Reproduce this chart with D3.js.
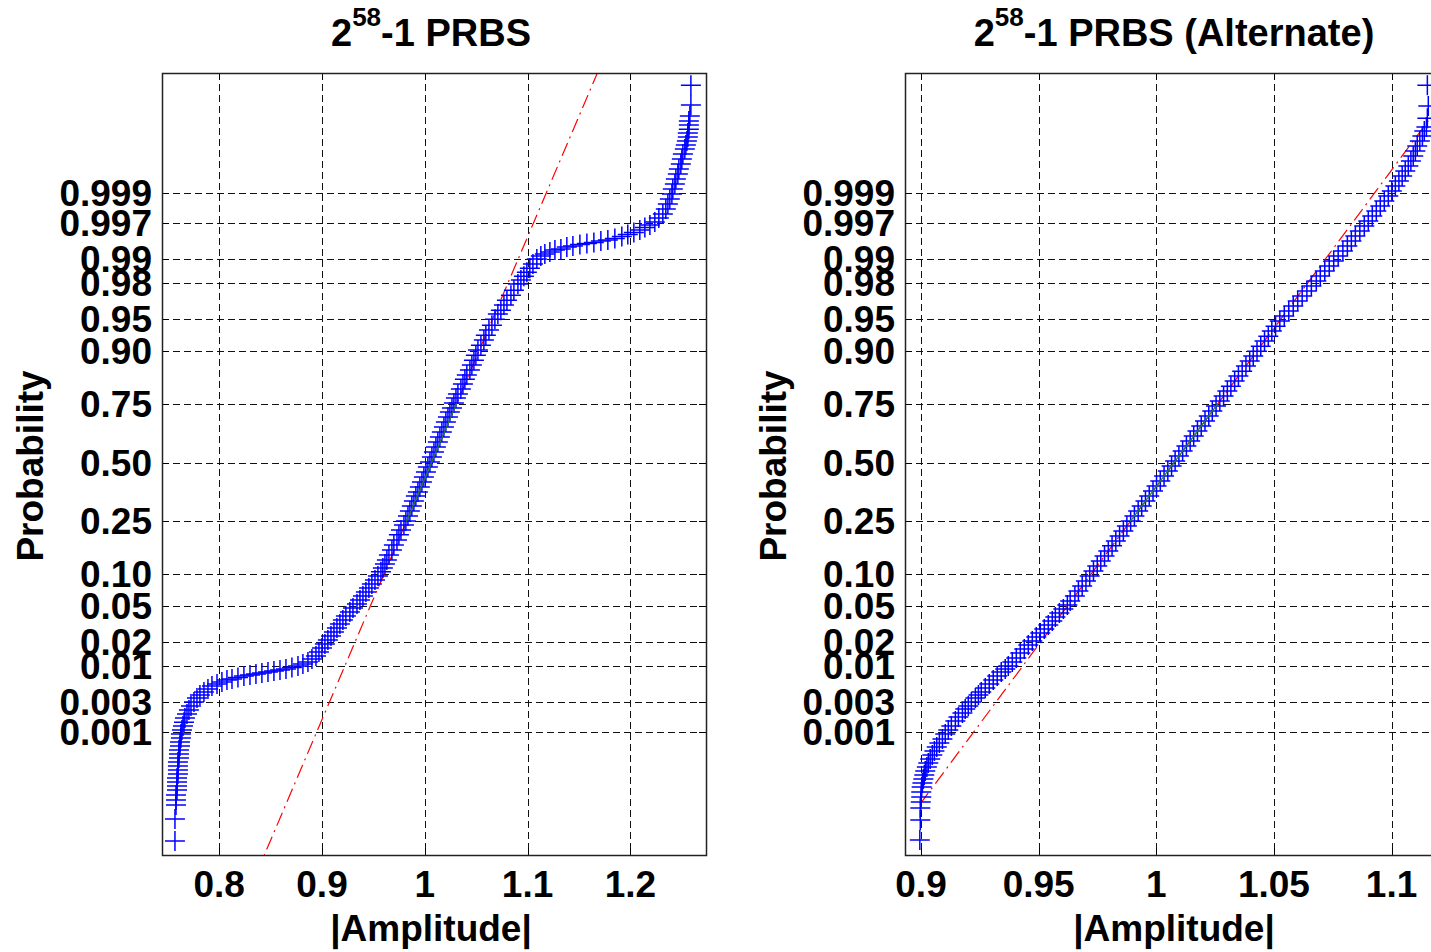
<!DOCTYPE html>
<html>
<head>
<meta charset="utf-8">
<script src="https://cdn.jsdelivr.net/npm/d3@7"></script>
<style>
body { margin: 0; background: #fff; }
text { font-family: "Liberation Sans", Arial, sans-serif; font-weight: bold; fill: #000; }
</style>
</head>
<body>
<div id="chart"></div>
<script>
// probability axis ticks (normal probability paper)
const probTicks  = [0.001, 0.003, 0.01, 0.02, 0.05, 0.10, 0.25, 0.50, 0.75, 0.90, 0.95, 0.98, 0.99, 0.997, 0.999];
const probLabels = ["0.001", "0.003", "0.01", "0.02", "0.05", "0.10", "0.25", "0.50", "0.75", "0.90", "0.95", "0.98", "0.99", "0.997", "0.999"];

// left panel: 2^58-1 PRBS
const leftTicks = [0.8, 0.9, 1, 1.1, 1.2];
const leftAmp = [
  0.7569, 0.7569, 0.7579, 0.7579, 0.7579, 0.7589, 0.7589, 0.7589, 0.7589, 0.7598,
  0.7598, 0.7598, 0.7598, 0.7608, 0.7608, 0.7608, 0.7618, 0.7618, 0.7627, 0.7627,
  0.7637, 0.7647, 0.7657, 0.7666, 0.7686, 0.7705, 0.7725, 0.7754, 0.7783, 0.7812,
  0.7851, 0.7890, 0.7929, 0.7978, 0.8026, 0.8075, 0.8124, 0.8182, 0.8240, 0.8299,
  0.8357, 0.8415, 0.8474, 0.8532, 0.8591, 0.8649, 0.8707, 0.8766, 0.8814, 0.8863,
  0.8902, 0.8941, 0.8970, 0.8999, 0.9028, 0.9057, 0.9087, 0.9116, 0.9145, 0.9174,
  0.9203, 0.9232, 0.9271, 0.9301, 0.9340, 0.9369, 0.9398, 0.9427, 0.9456, 0.9485,
  0.9515, 0.9544, 0.9573, 0.9592, 0.9612, 0.9631,
  0.9651, 0.9680, 0.9699, 0.9729, 0.9748, 0.9768, 0.9797, 0.9816,
  0.9836, 0.9855, 0.9874, 0.9894, 0.9913, 0.9933, 0.9952, 0.9972, 0.9991, 1.0011, 1.0030, 1.0050,
  1.0069, 1.0089, 1.0108, 1.0127, 1.0147, 1.0166, 1.0186, 1.0205, 1.0225, 1.0244, 1.0264, 1.0283,
  1.0303, 1.0322, 1.0351, 1.0371, 1.0390, 1.0409, 1.0439, 1.0458, 1.0478, 1.0497, 1.0517,
  1.0546, 1.0575, 1.0594, 1.0624, 1.0653, 1.0682,
  1.0711, 1.0740, 1.0770, 1.0799, 1.0838, 1.0867, 1.0906,
  1.0935, 1.0964, 1.0993, 1.1022, 1.1052, 1.1090,
  1.1129, 1.1168, 1.1217, 1.1266, 1.1324, 1.1382, 1.1441, 1.1509, 1.1577, 1.1645,
  1.1713, 1.1781, 1.1849, 1.1917, 1.1975, 1.2034, 1.2092, 1.2141, 1.2190, 1.2238,
  1.2277, 1.2316, 1.2345, 1.2365, 1.2384, 1.2404, 1.2413, 1.2433, 1.2443, 1.2462,
  1.2472, 1.2491, 1.2501, 1.2511, 1.2530, 1.2540, 1.2550, 1.2559, 1.2559, 1.2569,
  1.2569, 1.2569, 1.2579, 1.2589, 1.2589
];
const leftProb = [
  7.3e-6, 2.22e-5, 4.37e-5, 5.52e-5, 6.97e-5, 8.79e-5, 1.05e-4, 1.26e-4, 1.51e-4, 1.80e-4,
  2.14e-4, 2.53e-4, 3.00e-4, 3.56e-4, 4.20e-4, 4.96e-4, 5.83e-4, 6.83e-4, 7.99e-4, 9.35e-4,
  1.09e-3, 1.27e-3, 1.47e-3, 1.71e-3, 1.98e-3, 2.29e-3, 2.64e-3, 3.03e-3, 3.49e-3, 3.87e-3,
  4.28e-3, 4.73e-3, 5.23e-3, 5.58e-3, 5.96e-3, 6.36e-3, 6.57e-3, 6.88e-3, 7.22e-3, 7.45e-3,
  7.69e-3, 7.94e-3, 8.20e-3, 8.47e-3, 8.72e-3, 9.00e-3, 9.42e-3, 9.86e-3, 0.01049, 0.01115,
  0.01217, 0.01333, 0.01498, 0.01677, 0.01880, 0.02101, 0.02345, 0.02609, 0.02904, 0.03213,
  0.03561, 0.03932, 0.04344, 0.04771, 0.05250, 0.05756, 0.06311, 0.06899, 0.07517, 0.08193,
  0.08910, 0.0968, 0.1052, 0.1136, 0.1227, 0.1322,
  0.1449, 0.1582, 0.1727, 0.1874, 0.2036, 0.2200, 0.2372, 0.2517,
  0.2701, 0.2894, 0.3092, 0.3298, 0.3506, 0.3679, 0.3894, 0.4118, 0.4341, 0.4566, 0.4793, 0.5023,
  0.5251, 0.5478, 0.5705, 0.5929, 0.6148, 0.6363, 0.6579, 0.6785, 0.6987, 0.7182, 0.7335, 0.7522,
  0.7697, 0.7836, 0.7998, 0.8156, 0.8301, 0.8418, 0.8551, 0.8678, 0.8795, 0.8906, 0.9012,
  0.9106, 0.9197, 0.9276, 0.9354, 0.9422, 0.9497,
  0.9555, 0.9595, 0.9644, 0.9685, 0.9724, 0.9758, 0.9795,
  0.9817, 0.9836, 0.9854, 0.9870, 0.9885, 0.9901,
  0.9910, 0.99153, 0.99206, 0.99255, 0.99277, 0.99321, 0.99343, 0.99374, 0.99395, 0.99413,
  0.99442, 0.99460, 0.99486, 0.99519, 0.99550, 0.99580, 0.99613, 0.99645, 0.99675, 0.99707,
  0.99745, 0.99780, 0.99815, 0.99847, 0.99873, 0.99895, 0.999136, 0.999289, 0.999417, 0.999525,
  0.999613, 0.999686, 0.999747, 0.999795, 0.999836, 0.999862, 0.999885, 0.999904, 0.999920, 0.999933,
  0.999945, 0.999954, 0.999964, 0.999979, 0.9999923
];
const leftQuartiles = [0.9821, 1.0309];

// right panel: 2^58-1 PRBS (Alternate)
const rightTicks = [0.9, 0.95, 1, 1.05, 1.1];
const rightAmp = [
  0.8995, 0.8997, 0.8997, 0.8999, 0.9001, 0.9001, 0.9003, 0.9006, 0.9010, 0.9014,
  0.9018, 0.9025, 0.9031, 0.9039, 0.9048, 0.9057, 0.9067, 0.9078, 0.9091, 0.9103,
  0.9116, 0.9129, 0.9146, 0.9159, 0.9176, 0.9188, 0.9201, 0.9214, 0.9231, 0.9244,
  0.9256, 0.9273, 0.9290, 0.9307, 0.9324, 0.9341, 0.9358, 0.9371, 0.9388, 0.9405,
  0.9422, 0.9439, 0.9456, 0.9473, 0.9490, 0.9507, 0.9524, 0.9541, 0.9558, 0.9571,
  0.9588, 0.9605, 0.9622, 0.9634,
  0.9654, 0.9669, 0.9685, 0.9701, 0.9717, 0.9733, 0.9749, 0.9764, 0.9780, 0.9796,
  0.9812, 0.9828, 0.9844, 0.9860, 0.9875, 0.9891, 0.9907, 0.9923, 0.9938, 0.9954,
  0.9970, 0.9986, 1.0001, 1.0017, 1.0033, 1.0049, 1.0065, 1.0080, 1.0096, 1.0112,
  1.0128, 1.0144, 1.0159, 1.0175, 1.0191, 1.0207, 1.0223, 1.0238, 1.0254, 1.0270,
  1.0286, 1.0302, 1.0317, 1.0333, 1.0349, 1.0365, 1.0381, 1.0397, 1.0412, 1.0428,
  1.0444, 1.0460, 1.0476, 1.0491, 1.0507,
  1.0525, 1.0544, 1.0563, 1.0582, 1.0601, 1.0620, 1.0640, 1.0659, 1.0680, 1.0697,
  1.0716, 1.0735, 1.0754, 1.0773, 1.0793, 1.0812, 1.0829, 1.0846, 1.0865, 1.0884,
  1.0901, 1.0918, 1.0935, 1.0952, 1.0969, 1.0986, 1.1001, 1.1016, 1.1031, 1.1045,
  1.1058, 1.1071, 1.1082, 1.1092, 1.1101, 1.1109, 1.1120, 1.1131, 1.1139, 1.1148,
  1.1152, 1.1156, 1.1152
];
const rightProb = [
  7.66e-6, 2.12e-5, 3.78e-5, 5.03e-5, 6.35e-5, 8.0e-5, 1.008e-4, 1.21e-4, 1.44e-4, 1.72e-4,
  2.05e-4, 2.43e-4, 2.88e-4, 3.42e-4, 4.02e-4, 4.75e-4, 5.58e-4, 6.57e-4, 7.70e-4, 9.35e-4,
  1.09e-3, 1.27e-3, 1.53e-3, 1.78e-3, 2.06e-3, 2.37e-3, 2.64e-3, 3.03e-3, 3.49e-3, 3.87e-3,
  4.28e-3, 4.90e-3, 5.58e-3, 6.36e-3, 7.22e-3, 8.20e-3, 9.00e-3, 9.86e-3, 0.01115, 0.01256,
  0.01454, 0.01633, 0.01827, 0.02040, 0.02280, 0.02540, 0.02827, 0.03134, 0.03466, 0.03831,
  0.04232, 0.04664, 0.05129, 0.05635,
  0.06311, 0.07045, 0.07851, 0.08733, 0.0968, 0.1072, 0.1180, 0.1299, 0.1424, 0.1555,
  0.1699, 0.1844, 0.2002, 0.2164, 0.2339, 0.2517, 0.2701, 0.2894, 0.3092, 0.3298,
  0.3506, 0.3724, 0.3941, 0.4161, 0.4385, 0.4614, 0.4840, 0.5068, 0.5295, 0.5525,
  0.5750, 0.5971, 0.6194, 0.6408, 0.6619, 0.6825, 0.7028, 0.7223, 0.7409, 0.7592,
  0.7767, 0.7934, 0.8092, 0.8245, 0.8390, 0.8523, 0.8653, 0.8773, 0.8886, 0.8990,
  0.9086, 0.9179, 0.9261, 0.9339, 0.9409,
  0.9475, 0.9534, 0.9587, 0.9635, 0.9679, 0.9717, 0.9753, 0.9784, 0.9812, 0.9837,
  0.9859, 0.9878, 0.9895, 0.9910, 0.99231, 0.99343, 0.99442, 0.99527, 0.99600, 0.99663,
  0.99717, 0.99763, 0.99802, 0.99835, 0.99863, 0.99887, 0.999065, 0.99923, 0.999371, 0.999485,
  0.999580, 0.999658, 0.999725, 0.999777, 0.999820, 0.999856, 0.999885, 0.999908, 0.999927, 0.999939,
  0.999960, 0.999978, 0.9999923
];
const rightQuartiles = [0.98896, 1.02618];

// inverse normal cdf (Acklam), used to build the probability scale
function probit(p) {
  const a = [-39.69683028665376, 220.9460984245205, -275.9285104469687, 138.3577518672690, -30.66479806614716, 2.506628277459239];
  const b = [-54.47609879822406, 161.5858368580409, -155.6989798598866, 66.80131188771972, -13.28068155288572];
  const c = [-0.007784894002430293, -0.3223964580411365, -2.400758277161838, -2.549732539343734, 4.374664141464968, 2.938163982698783];
  const d = [0.007784695709041462, 0.3224671290700398, 2.445134137142996, 3.754408661907416];
  const pl = 0.02425;
  let q, r;
  if (p < pl) {
    q = Math.sqrt(-2 * Math.log(p));
    return (((((c[0]*q+c[1])*q+c[2])*q+c[3])*q+c[4])*q+c[5]) / ((((d[0]*q+d[1])*q+d[2])*q+d[3])*q+1);
  }
  if (p <= 1 - pl) {
    q = p - 0.5; r = q * q;
    return (((((a[0]*r+a[1])*r+a[2])*r+a[3])*r+a[4])*r+a[5])*q / (((((b[0]*r+b[1])*r+b[2])*r+b[3])*r+b[4])*r+1);
  }
  q = Math.sqrt(-2 * Math.log(1 - p));
  return -(((((c[0]*q+c[1])*q+c[2])*q+c[3])*q+c[4])*q+c[5]) / ((((d[0]*q+d[1])*q+d[2])*q+d[3])*q+1);
}

const width = 1431, height = 952;
const plotTop = 73, plotBottom = 855;

const svg = d3.select('#chart').append('svg')
    .attr('width', width)
    .attr('height', height);

// normal quantile -> pixel
const zScale = d3.scaleLinear().domain([-4.496, 4.462]).range([plotBottom, plotTop]);
const yProb = p => zScale(probit(p));

function drawPanel(id, left, right, xDomain, ticks, amp, prob, quart, titleRest, ylabX) {
  const x = d3.scaleLinear().domain(xDomain).range([left, right]);
  const g = svg.append('g');
  const crisp = v => Math.round(v) + 0.5;

  g.append('clipPath').attr('id', 'clip' + id)
    .append('rect').attr('x', left).attr('y', plotTop).attr('width', right - left).attr('height', plotBottom - plotTop);

  // grid
  g.selectAll('.vgrid').data(ticks).enter().append('line')
    .attr('x1', d => crisp(x(d))).attr('x2', d => crisp(x(d)))
    .attr('y1', plotTop).attr('y2', plotBottom)
    .attr('stroke', '#111').attr('stroke-dasharray', '7,4');
  g.selectAll('.hgrid').data(probTicks).enter().append('line')
    .attr('x1', left).attr('x2', right)
    .attr('y1', d => crisp(yProb(d))).attr('y2', d => crisp(yProb(d)))
    .attr('stroke', '#111').attr('stroke-dasharray', '7,4');

  const plot = g.append('g').attr('clip-path', 'url(#clip' + id + ')');

  // fit line through the quartiles
  const zq = probit(0.75);
  const mu = (quart[0] + quart[1]) / 2, sigma = (quart[1] - quart[0]) / (2 * zq);
  const lo = d3.min(amp), hi = d3.max(amp);
  plot.append('line')
    .attr('x1', x(lo)).attr('y1', zScale((lo - mu) / sigma))
    .attr('x2', x(hi)).attr('y2', zScale((hi - mu) / sigma))
    .attr('stroke', '#ff0000').attr('stroke-width', 1.2)
    .attr('stroke-dasharray', '14,5,2,5');

  // data markers '+'
  const pts = amp.map((a, i) => [x(a), yProb(prob[i])]);
  plot.selectAll('.pt').data(pts).enter().append('path')
    .attr('d', d => `M${d[0]-10},${d[1]}h20M${d[0]},${d[1]-10}v20`)
    .attr('stroke', '#0000ff').attr('stroke-width', 1.5).attr('fill', 'none');

  plot.append('line')
    .attr('x1', x(quart[0])).attr('y1', yProb(0.25))
    .attr('x2', x(quart[1])).attr('y2', yProb(0.75))
    .attr('stroke', '#1a8a1a').attr('stroke-width', 1.2);

  // ticks on all four sides
  ticks.forEach(t => {
    const px = crisp(x(t));
    g.append('line').attr('x1', px).attr('x2', px).attr('y1', plotBottom).attr('y2', plotBottom - 7).attr('stroke', '#000');
    g.append('line').attr('x1', px).attr('x2', px).attr('y1', plotTop).attr('y2', plotTop + 7).attr('stroke', '#000');
  });
  probTicks.forEach(p => {
    const py = crisp(yProb(p));
    g.append('line').attr('x1', left).attr('x2', left + 7).attr('y1', py).attr('y2', py).attr('stroke', '#000');
    g.append('line').attr('x1', right - 7).attr('x2', right).attr('y1', py).attr('y2', py).attr('stroke', '#000');
  });

  // box
  g.append('rect').attr('x', left + 0.5).attr('y', plotTop + 0.5)
    .attr('width', right - left).attr('height', plotBottom - plotTop)
    .attr('fill', 'none').attr('stroke', '#222').attr('stroke-width', 1.5);

  // tick labels
  g.selectAll('.xl').data(ticks).enter().append('text')
    .attr('x', d => x(d)).attr('y', 897)
    .attr('text-anchor', 'middle').style('font-size', '37px')
    .text(d => d);
  g.selectAll('.yl').data(probTicks).enter().append('text')
    .attr('x', left - 10).attr('y', d => yProb(d) + 13)
    .attr('text-anchor', 'end').style('font-size', '37px')
    .text((d, i) => probLabels[i]);

  // axis titles
  g.append('text').attr('x', (left + right) / 2 - 3).attr('y', 941)
    .attr('text-anchor', 'middle').style('font-size', '37px').text('|Amplitude|');
  g.append('text').attr('transform', `translate(${ylabX},466) rotate(-90)`)
    .attr('text-anchor', 'middle').style('font-size', '37px').text('Probability');

  const title = g.append('text').attr('x', (left + right) / 2 - 3).attr('y', 46)
    .attr('text-anchor', 'middle').style('font-size', '38px');
  title.append('tspan').text('2');
  title.append('tspan').attr('dy', -20).style('font-size', '26px').text('58');
  title.append('tspan').attr('dy', 20).text(titleRest);
}

drawPanel('L', 162, 706, [0.7443, 1.2736], leftTicks, leftAmp, leftProb, leftQuartiles, '-1 PRBS', 43);
drawPanel('R', 905, 1449, [0.8932, 1.1244], rightTicks, rightAmp, rightProb, rightQuartiles, '-1 PRBS (Alternate)', 786);
</script>
</body>
</html>
